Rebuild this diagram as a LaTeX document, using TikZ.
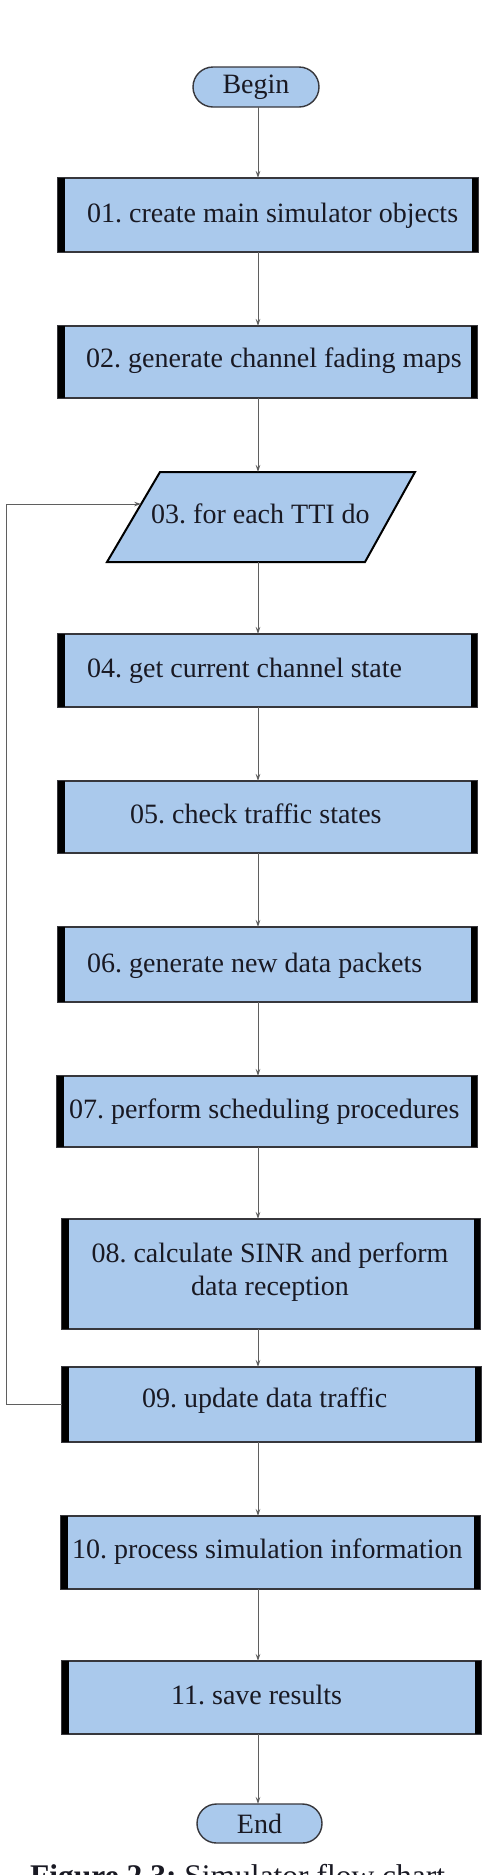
\documentclass[tikz,border=0pt]{standalone}
\usepackage{fontspec}
\setmainfont{Liberation Serif}
\usetikzlibrary{shapes.misc,arrows.meta,calc}
\definecolor{boxfill}{RGB}{170,201,236}
\definecolor{boxline}{RGB}{55,55,60}
\definecolor{txtcol}{RGB}{25,25,35}
\definecolor{arrcol}{RGB}{95,95,95}
\newcommand\sidebars[1]{%
  \fill[black] (#1.north west) rectangle ([xshift=6.5pt]#1.south west);
  \fill[black] ([xshift=-6.5pt]#1.north east) rectangle (#1.south east);}
\frenchspacing
\begin{document}
\begin{tikzpicture}[x=1pt,y=-1pt,
  proc/.style={draw=boxline, line width=1.1pt, fill=boxfill, inner sep=0pt, outer sep=0pt, anchor=north west},
  term/.style={rounded rectangle, draw=boxline, line width=1.4pt, fill=boxfill, inner sep=0pt, outer sep=0pt,
    minimum width=126pt, minimum height=40pt, text=txtcol, font=\fontsize{28}{33}\selectfont},
  parashape/.style={draw=black, line width=2pt, fill=boxfill, line join=miter},
  txt/.style={anchor=base west, inner sep=0pt, text=txtcol, font=\fontsize{28}{33}\selectfont},
  arr/.style={draw=arrcol, line width=0.9pt, -{Stealth[length=7pt,width=4.5pt]}},
]
\useasboundingbox (0,0) rectangle (488,1875);
\clip (0,0) rectangle (488,1875);
\fill[white] (0,0) rectangle (488,1875);
\coordinate (colx) at (258,0);
\coordinate (loopx) at (6,0);

% terminals
\node[term] (b00) at (256,87) {Begin};
\node[term, minimum width=125pt, minimum height=39pt] (b12) at (259.5,1823.5) {End};

% process boxes
\node[proc, minimum width=420pt, minimum height=74pt] (b01) at (58,178) {};
\node[proc, minimum width=419pt, minimum height=72pt] (b02) at (58,326) {};
% parallelogram (step 03)
\coordinate (p03a) at (160,472);
\coordinate (p03b) at (415,472);
\coordinate (p03c) at (365,562);
\coordinate (p03d) at (107,562);
\draw[parashape] (p03a) -- (p03b) -- (p03c) -- (p03d) -- cycle;
\coordinate (b03n) at (258,472);
\coordinate (b03s) at (258,562);
\node[proc, minimum width=419pt, minimum height=73pt] (b04) at (58,634) {};
\node[proc, minimum width=419pt, minimum height=72pt] (b05) at (58,781) {};
\node[proc, minimum width=419pt, minimum height=75pt] (b06) at (58,927) {};
\node[proc, minimum width=420pt, minimum height=71pt] (b07) at (57,1076) {};
\node[proc, minimum width=418pt, minimum height=110pt] (b08) at (62,1219) {};
\node[proc, minimum width=419pt, minimum height=75pt] (b09) at (62,1367) {};
\node[proc, minimum width=419pt, minimum height=73pt] (b10) at (61,1516) {};
\node[proc, minimum width=419pt, minimum height=73pt] (b11) at (62,1661) {};
\sidebars{b01}\sidebars{b02}\sidebars{b04}\sidebars{b05}\sidebars{b06}
\sidebars{b07}\sidebars{b08}\sidebars{b09}\sidebars{b10}\sidebars{b11}

% texts
\node[txt] (t01) at (87,222) {01. create main simulator objects};
\node[txt] (t02) at (86,367) {02. generate channel fading maps};
\node[txt] (t03) at (151,523) {03. for each TTI do};
\node[txt] (t04) at (87,677) {04. get current channel state};
\node[txt] (t05) at (130,823) {05. check traffic states};
\node[txt] (t06) at (87,972) {06. generate new data packets};
\node[txt] (t07) at (69,1118) {07. perform scheduling procedures};
\node[txt, anchor=base, align=center] (t08) at (270,1295) {08. calculate SINR and perform\\data reception};
\node[txt] (t09) at (142,1407) {09. update data traffic};
\node[txt] (t10) at (72,1558) {10. process simulation information};
\node[txt] (t11) at (171,1704) {11. save results};

% connectors
\draw[arr] (b00.south -| colx) -- (b01.north -| colx);
\draw[arr] (b01.south -| colx) -- (b02.north -| colx);
\draw[arr] (b02.south -| colx) -- (b03n);
\draw[arr] (b03s) -- (b04.north -| colx);
\draw[arr] (b04.south -| colx) -- (b05.north -| colx);
\draw[arr] (b05.south -| colx) -- (b06.north -| colx);
\draw[arr] (b06.south -| colx) -- (b07.north -| colx);
\draw[arr] (b07.south -| colx) -- (b08.north -| colx);
\draw[arr] (b08.south -| colx) -- (b09.north -| colx);
\draw[arr] (b09.south -| colx) -- (b10.north -| colx);
\draw[arr] (b10.south -| colx) -- (b11.north -| colx);
\draw[arr] (b11.south -| colx) -- (b12.north -| colx);
\coordinate (b03in) at ($(p03d)!0.644!(p03a)$);
\draw[arr] (b09.west) -- (b09.west -| loopx) |- (b03in);

% caption (cut off at the lower edge, as in the reference)
\node[anchor=base west, inner sep=0pt, text=txtcol, font=\fontsize{31.5}{36}\selectfont] (cap) at (30,1886)
  {\textbf{Figure 2.3:} Simulator flow chart};
\end{tikzpicture}
\end{document}
